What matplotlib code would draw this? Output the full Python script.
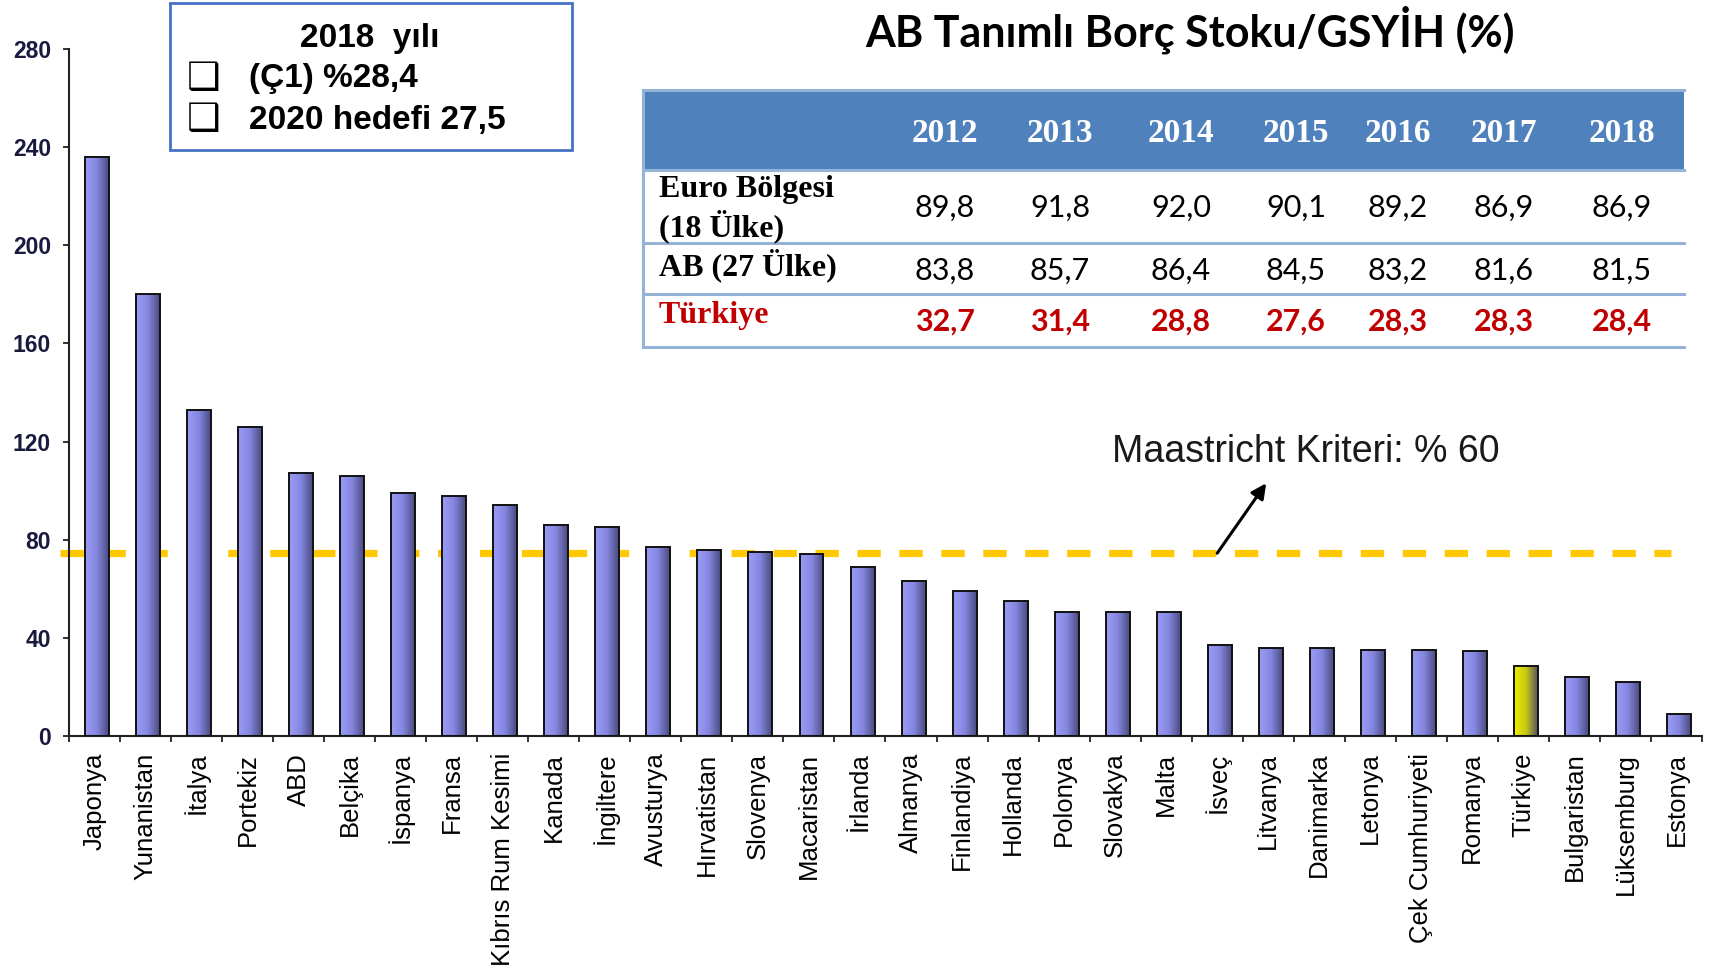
import numpy as np
import matplotlib.pyplot as plt
from matplotlib.colors import LinearSegmentedColormap
from matplotlib.patches import Rectangle

plt.rcParams['lines.scale_dashes'] = False

# bar chart data (debt / GDP, %)
countries = ['Japonya', 'Yunanistan', 'İtalya', 'Portekiz', 'ABD', 'Belçika', 'İspanya',
             'Fransa', 'Kıbrıs Rum Kesimi', 'Kanada', 'İngiltere', 'Avusturya', 'Hırvatistan',
             'Slovenya', 'Macaristan', 'İrlanda', 'Almanya', 'Finlandiya', 'Hollanda',
             'Polonya', 'Slovakya', 'Malta', 'İsveç', 'Litvanya', 'Danimarka', 'Letonya',
             'Çek Cumhuriyeti', 'Romanya', 'Türkiye', 'Bulgaristan', 'Lüksemburg', 'Estonya']
debt_ratio = [236, 180, 133, 126, 107, 106, 99, 98, 94, 86, 85, 77, 76, 75, 74, 69,
              63, 59, 55, 50.5, 50.5, 50.5, 37, 36, 36, 35, 35, 34.8, 28.4, 24, 22, 9]
highlight = 'Türkiye'
maastricht_level = 74.5

# table data
years = ['2012', '2013', '2014', '2015', '2016', '2017', '2018']
row_labels = ['Euro Bölgesi', 'AB (27 Ülke)', 'Türkiye']
euro_area = [89.8, 91.8, 92.0, 90.1, 89.2, 86.9, 86.9]
eu27 = [83.8, 85.7, 86.4, 84.5, 83.2, 81.6, 81.5]
turkey = [32.7, 31.4, 28.8, 27.6, 28.3, 28.3, 28.4]

W, H = 1715, 980


def fx(x):
    return x / W


def fy(y):
    return 1 - y / H


def fmt(v):
    return ('%.1f' % v).replace('.', ',')


fig = plt.figure(figsize=(W / 100, H / 100), dpi=100)
ax = fig.add_axes([fx(69), fy(736), fx(1702) - fx(69), fy(49) - fy(736)])

blue_cm = LinearSegmentedColormap.from_list('b', ['#9a9cf6', '#8486e0', '#4a4b7e'])
yellow_cm = LinearSegmentedColormap.from_list('y', ['#eeee00', '#c8c814', '#55555f'])
grad = np.linspace(0, 1, 64).reshape(1, -1)

x = np.arange(len(countries))
bw = 0.47
bars = ax.bar(x + 0.05, debt_ratio, width=bw, facecolor='none', edgecolor='#111111',
              linewidth=1.4, zorder=3)
for name, b in zip(countries, bars):
    cm = yellow_cm if name == highlight else blue_cm
    im = ax.imshow(grad, extent=[b.get_x(), b.get_x() + b.get_width(), 0, b.get_height()],
                   cmap=cm, aspect='auto', interpolation='bicubic', zorder=2)
    im.set_clip_path(b)

# Maastricht line (behind bars)
ax.plot([-0.68, 30.9], [maastricht_level, maastricht_level], color='#ffc800', lw=5.2,
        dashes=(16.8, 13.4), zorder=1, clip_on=False, solid_capstyle='butt',
        dash_capstyle='butt')
ax.annotate('', xy=(22.96, 103), xytext=(22.0, maastricht_level),
            arrowprops=dict(arrowstyle='-|>,head_length=0.9,head_width=0.45',
                            color='black', lw=2.2, shrinkA=0, shrinkB=0), zorder=5)
ax.text(19.93, 111.7, 'Maastricht Kriteri: % 60', fontsize=27, color='#1a1a1a',
        family='Liberation Sans', va='baseline', ha='left')

ax.set_xlim(-0.5, len(countries) - 0.5)
ax.set_ylim(0, 280)
ax.set_yticks(np.arange(0, 281, 40))
ax.set_yticklabels([str(v) for v in range(0, 281, 40)], fontsize=16.5, fontweight='bold',
                   color='#1a1a40', family='Liberation Sans')
ax.set_xticks(x)
ax.set_xticklabels(countries, rotation=90, fontsize=18.5, family='Liberation Sans',
                   va='top', ha='center')
ax.set_xticks(np.arange(-0.5, len(countries)), minor=True)
ax.tick_params(axis='x', which='major', length=0, pad=12)
ax.tick_params(axis='x', which='minor', length=4, width=1.3, color='#222222')
ax.tick_params(axis='y', length=4, width=1.3, color='#222222', pad=9)
for s in ['top', 'right']:
    ax.spines[s].set_visible(False)
for s in ['left', 'bottom']:
    ax.spines[s].set_linewidth(1.5)
    ax.spines[s].set_color('#222222')

# title
fig.text(fx(1190), fy(30), 'AB Tanımlı Borç Stoku/GSYİH (%)', fontsize=31,
         fontweight='bold', family='Lato', ha='center', va='center')

# info box
fig.add_artist(Rectangle((fx(170), fy(150)), fx(572) - fx(170), fy(3) - fy(150),
                         transform=fig.transFigure, facecolor='white',
                         edgecolor='#4472c4', lw=2))
fig.text(fx(370), fy(39), '2018  yılı', fontsize=24, fontweight='bold',
         family='Liberation Sans', ha='center', va='center')
for yy, txt in [(79, '(Ç1) %28,4'), (120, '2020 hedefi 27,5')]:
    fig.text(fx(204), fy(yy), '❑', fontsize=27, family='DejaVu Sans',
             ha='center', va='center')
    fig.text(fx(249), fy(yy), txt, fontsize=24, fontweight='bold',
             family='Liberation Sans', ha='left', va='center')

# table
tx0, tx1 = 643, 1684
col_x = [945, 1060, 1181, 1296, 1398, 1504, 1622]
fig.add_artist(Rectangle((fx(tx0), fy(170)), fx(tx1) - fx(tx0), fy(90) - fy(170),
                         transform=fig.transFigure, facecolor='#4f81bd',
                         edgecolor='none'))
for yy in [90, 170, 243, 294, 347]:
    fig.add_artist(plt.Line2D([fx(tx0), fx(tx1)], [fy(yy), fy(yy)],
                              transform=fig.transFigure, color='#95b3d7', lw=2.2))
fig.add_artist(plt.Line2D([fx(tx0), fx(tx0)], [fy(90), fy(347)],
                          transform=fig.transFigure, color='#95b3d7', lw=2.2))
for cx, yr in zip(col_x, years):
    fig.text(fx(cx), fy(134), yr, fontsize=24, fontweight='bold', color='white',
             family='Liberation Serif', ha='center', va='center')

fig.text(fx(659), fy(190), row_labels[0], fontsize=23, fontweight='bold',
         family='Liberation Serif', ha='left', va='center')
fig.text(fx(659), fy(226), '(18 Ülke)', fontsize=23, fontweight='bold',
         family='Liberation Serif', ha='left', va='center')
fig.text(fx(659), fy(265), row_labels[1], fontsize=23, fontweight='bold',
         family='Liberation Serif', ha='left', va='center')
fig.text(fx(659), fy(315), row_labels[2], fontsize=23, fontweight='bold',
         color='#c00000', family='Liberation Serif', ha='left', va='center')

for cx, a, b, c in zip(col_x, euro_area, eu27, turkey):
    fig.text(fx(cx), fy(208), fmt(a), fontsize=22, family='Lato', ha='center', va='center')
    fig.text(fx(cx), fy(271), fmt(b), fontsize=22, family='Lato', ha='center', va='center')
    fig.text(fx(cx), fy(322), fmt(c), fontsize=22, family='Lato', fontweight='bold',
             color='#c00000', ha='center', va='center')

fig.savefig('out.png', dpi=100)
